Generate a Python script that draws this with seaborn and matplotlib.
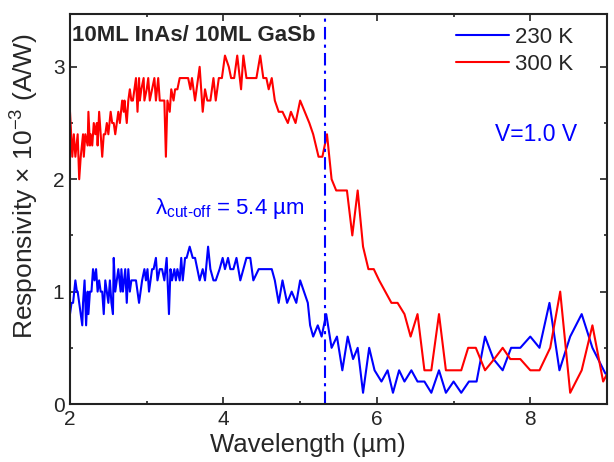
import matplotlib
matplotlib.use("Agg")
import matplotlib.pyplot as plt
from matplotlib.ticker import MultipleLocator
import numpy as np
import pandas as pd
import seaborn as sns

# 300 K curve (red)
wl_300 = [2.00, 2.03, 2.05, 2.07, 2.10, 2.12, 2.14, 2.17, 2.18, 2.20,
          2.23, 2.24, 2.26, 2.27, 2.29, 2.31, 2.33, 2.35, 2.36, 2.38,
          2.40, 2.42, 2.44, 2.46, 2.48, 2.50, 2.53, 2.55, 2.57, 2.59,
          2.61, 2.63, 2.65, 2.68, 2.70, 2.71, 2.74, 2.76, 2.78, 2.80,
          2.82, 2.84, 2.86, 2.88, 2.90, 2.91, 2.93, 2.96, 2.97, 3.00,
          3.02, 3.04, 3.07, 3.10, 3.12, 3.15, 3.17, 3.20, 3.23, 3.25,
          3.27, 3.30, 3.32, 3.35, 3.37, 3.40, 3.43, 3.46, 3.49, 3.51,
          3.54, 3.57, 3.59,
          3.63, 3.69, 3.73, 3.76, 3.79, 3.83, 3.87, 3.90, 3.94, 3.98,
          4.02, 4.07, 4.10, 4.14, 4.18, 4.23, 4.26, 4.30, 4.36, 4.43,
          4.48, 4.52, 4.56, 4.59, 4.63, 4.67, 4.72, 4.77, 4.84, 4.88,
          4.94, 5.00, 5.06, 5.12, 5.17, 5.24, 5.29, 5.35, 5.41, 5.47,
          5.54, 5.61, 5.68, 5.75, 5.82, 5.89, 5.96, 6.03, 6.11, 6.19,
          6.27, 6.36, 6.44, 6.53, 6.62, 6.71, 6.81, 6.90, 7.00, 7.10,
          7.19, 7.29, 7.41, 7.53, 7.64, 7.74, 7.87, 8.00, 8.12, 8.26,
          8.39, 8.52, 8.67, 8.81, 8.95, 9.10]
resp_300 = [2.6, 2.2, 2.4, 2.2, 2.4, 2.0, 2.2, 2.4, 2.2, 2.4,
            2.3, 2.6, 2.3, 2.4, 2.3, 2.5, 2.4, 2.5, 2.3, 2.6,
            2.4, 2.2, 2.4, 2.4, 2.5, 2.4, 2.6, 2.5, 2.5, 2.4,
            2.5, 2.6, 2.5, 2.7, 2.6, 2.7, 2.5, 2.7, 2.8, 2.7,
            2.7, 2.8, 2.9, 2.6, 2.9, 2.7, 2.8, 2.9, 2.7, 2.8,
            2.9, 2.7, 2.8, 2.9, 2.7, 2.9, 2.7, 2.7, 2.7, 2.2,
            2.7, 2.6, 2.8, 2.7, 2.8, 2.8, 2.9, 2.9, 2.9, 2.9,
            2.9, 2.8, 2.9,
            2.7, 3.0, 2.6, 2.8, 2.7, 2.7, 2.9, 2.7, 2.9, 2.9,
            3.1, 3.0, 2.9, 2.9, 3.1, 2.8, 3.1, 2.9, 2.9, 2.9,
            3.1, 2.9, 2.9, 2.8, 2.9, 2.7, 2.6, 2.6, 2.5, 2.6,
            2.5, 2.7, 2.6, 2.5, 2.4, 2.2, 2.2, 2.4, 2.0, 1.9,
            1.9, 1.9, 1.5, 1.9, 1.4, 1.2, 1.2, 1.1, 1.0, 0.9,
            0.9, 0.8, 0.6, 0.8, 0.3, 0.3, 0.8, 0.3, 0.3, 0.3,
            0.5, 0.5, 0.3, 0.4, 0.5, 0.4, 0.4, 0.3, 0.3, 0.5,
            1.0, 0.1, 0.3, 0.7, 0.2, 0.4]

# 230 K curve (blue)
wl_230 = [2.00, 2.02, 2.04, 2.07, 2.09, 2.10, 2.12, 2.14, 2.16, 2.17,
          2.19, 2.21, 2.23, 2.24, 2.26, 2.28, 2.30, 2.32, 2.34, 2.36,
          2.38, 2.40, 2.42, 2.44, 2.46, 2.48, 2.50, 2.52, 2.54, 2.56,
          2.57, 2.59, 2.61, 2.63, 2.66, 2.67, 2.69, 2.72, 2.74, 2.76,
          2.78, 2.80, 2.83, 2.86, 2.90, 2.94, 2.97, 2.99, 3.01, 3.03,
          3.07, 3.09, 3.12, 3.14, 3.17, 3.20, 3.23, 3.26, 3.29, 3.31,
          3.33, 3.36, 3.38, 3.40, 3.43, 3.45, 3.47, 3.50, 3.52, 3.56,
          3.60, 3.63, 3.69, 3.73, 3.76, 3.80, 3.83, 3.87, 3.90, 3.95,
          3.99, 4.02, 4.06, 4.09, 4.13, 4.17, 4.22, 4.26, 4.30, 4.35,
          4.39, 4.46, 4.63, 4.67, 4.72, 4.77, 4.83, 4.89, 4.95, 5.00,
          5.05, 5.10, 5.13, 5.17, 5.23, 5.28, 5.34, 5.41, 5.48, 5.55,
          5.62, 5.69, 5.75, 5.82, 5.90, 5.97, 6.06, 6.14, 6.21, 6.29,
          6.36, 6.45, 6.53, 6.62, 6.71, 6.81, 6.90, 7.00, 7.10, 7.20,
          7.30, 7.41, 7.52, 7.64, 7.75, 7.87, 8.00, 8.12, 8.25, 8.38,
          8.52, 8.67, 8.81, 8.98]
resp_230 = [0.8, 0.9, 0.9, 1.1, 1.0, 1.0, 0.9, 0.8, 0.7, 0.9,
            1.1, 0.7, 1.0, 0.8, 1.0, 1.0, 1.2, 1.1, 1.2, 1.0,
            1.1, 1.0, 1.0, 0.8, 1.1, 1.0, 0.9, 1.1, 0.9, 0.8,
            1.3, 1.0, 1.1, 1.2, 1.0, 1.2, 1.0, 1.2, 0.9, 1.2,
            1.0, 1.1, 1.1, 1.1, 0.9, 1.1, 1.2, 1.1, 1.2, 1.0,
            1.2, 1.2, 1.3, 1.1, 1.2, 1.2, 1.1, 1.3, 0.8, 1.2,
            1.1, 1.2, 1.1, 1.2, 1.1, 1.3, 1.1, 1.3, 1.3, 1.4,
            1.3, 1.3, 1.1, 1.2, 1.1, 1.4, 1.2, 1.1, 1.1, 1.2,
            1.3, 1.2, 1.3, 1.2, 1.2, 1.3, 1.1, 1.2, 1.3, 1.3,
            1.1, 1.2, 1.2, 1.1, 0.9, 1.1, 0.9, 1.0, 0.9, 1.1,
            1.0, 0.9, 0.7, 0.6, 0.7, 0.6, 0.8, 0.5, 0.6, 0.3,
            0.6, 0.4, 0.5, 0.1, 0.5, 0.3, 0.2, 0.3, 0.1, 0.3,
            0.2, 0.3, 0.2, 0.2, 0.1, 0.3, 0.1, 0.2, 0.1, 0.2,
            0.2, 0.6, 0.4, 0.3, 0.5, 0.5, 0.6, 0.5, 0.9, 0.3,
            0.6, 0.8, 0.5, 0.27]

cutoff_wl = 5.32

sns.set_theme(style="ticks")
plt.rcParams["font.family"] = ["Liberation Sans", "DejaVu Sans"]
plt.rcParams["mathtext.fontset"] = "custom"
plt.rcParams["mathtext.rm"] = "Liberation Sans"
plt.rcParams["mathtext.it"] = "Liberation Sans:italic"
plt.rcParams["mathtext.bf"] = "Liberation Sans:bold"

fig = plt.figure(figsize=(6.14, 4.62), dpi=100)
ax = fig.add_axes([0.114, 0.1255, 0.8746, 0.8442])

sns.lineplot(x=wl_230, y=resp_230, ax=ax, color="#0000ff", lw=1.5,
             sort=False, estimator=None, label="230 K")
sns.lineplot(x=wl_300, y=resp_300, ax=ax, color="#ff0000", lw=1.5,
             sort=False, estimator=None, label="300 K")
ax.axvline(cutoff_wl, color="#0000ff", lw=1.5, ls=(0, (6, 2.5, 1.5, 2.5)))

ax.set_xlim(2, 9)
ax.set_ylim(0, 3.47)
ax.xaxis.set_major_locator(MultipleLocator(2))
ax.xaxis.set_minor_locator(MultipleLocator(1))
ax.yaxis.set_major_locator(MultipleLocator(1))
ax.yaxis.set_minor_locator(MultipleLocator(0.5))
ax.tick_params(which="both", direction="in", top=True, right=True,
               color="#222222", width=1.2, labelsize=15, pad=4)
ax.tick_params(which="major", length=5)
ax.tick_params(which="minor", length=2.5)
for sp in ax.spines.values():
    sp.set_color("#222222")
    sp.set_linewidth(1.5)

ax.set_xlabel("Wavelength (µm)", fontsize=18.5)
ax.set_ylabel(r"Responsivity × 10$^{-3}$ (A/W)", fontsize=19)
ax.xaxis.set_label_coords(0.443, -0.0745)
ax.yaxis.set_label_coords(-0.054, 0.559)

ax.text(0.004, 0.944, "10ML InAs/ 10ML GaSb", transform=ax.transAxes,
        fontsize=16, fontweight="bold", ha="left", va="center")
ax.text(0.791, 0.69, "V=1.0 V", transform=ax.transAxes,
        fontsize=16.5, color="#0000ff", ha="left", va="center")
ax.text(0.158, 0.487, r"λ$_{\text{cut-off}}$ = 5.4 µm", transform=ax.transAxes,
        fontsize=16, color="#0000ff", ha="left", va="baseline")

ax.legend(loc="upper right", bbox_to_anchor=(0.937, 0.966), frameon=False,
          fontsize=16, borderpad=0, borderaxespad=0, handlelength=2.4,
          handletextpad=0.27, labelspacing=0.27)

fig.savefig("out.png", dpi=100)
